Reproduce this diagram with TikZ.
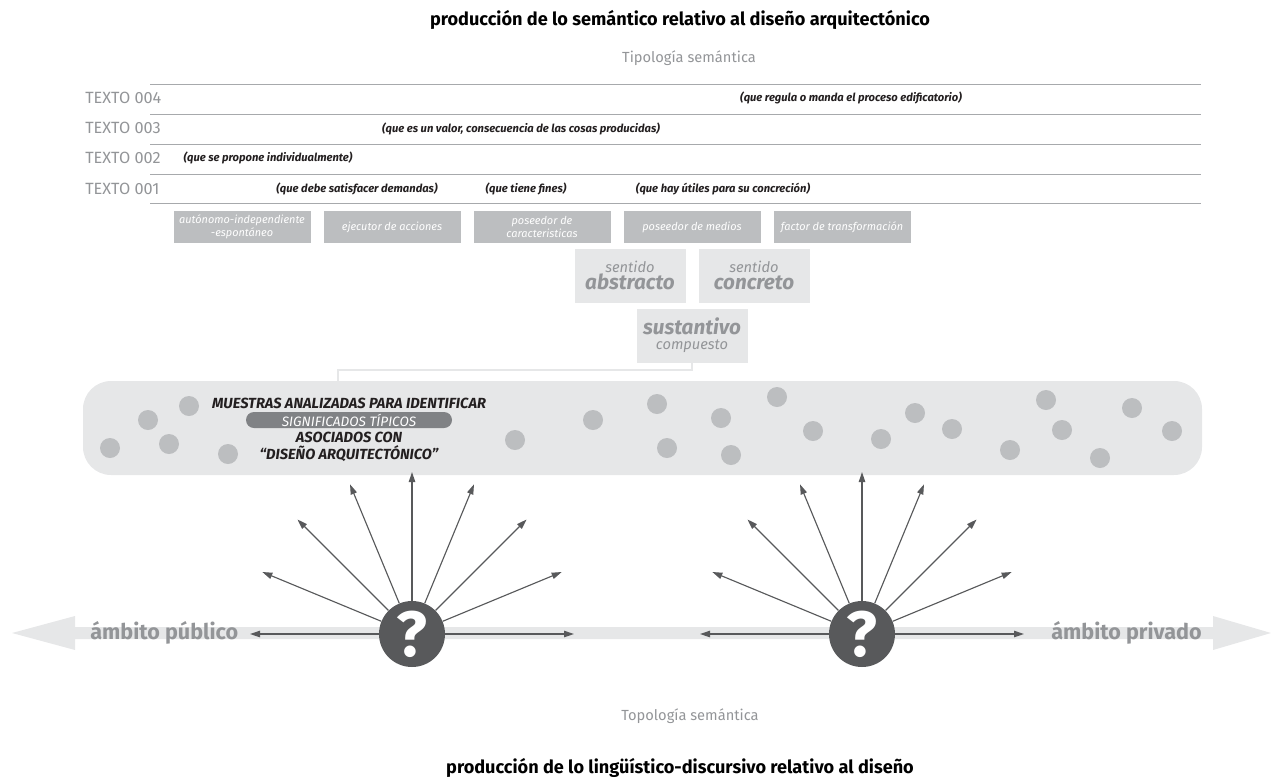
\documentclass[tikz,border=0pt]{standalone}
\usepackage{fontspec}
\setmainfont{Fira Sans}
\usepackage{tikz}
\usetikzlibrary{arrows.meta}
\definecolor{labgray}{HTML}{939598}
\definecolor{rulegray}{HTML}{A7A9AC}
\definecolor{boxgray}{HTML}{BCBEC0}
\definecolor{panelgray}{HTML}{E6E7E8}
\definecolor{pillgray}{HTML}{808285}
\definecolor{qgray}{HTML}{58595B}
\definecolor{inkblack}{HTML}{231F20}
\tikzset{
  rowlabel/.style={anchor=west, inner sep=0.75pt, text=labgray, font=\fontsize{12.2}{13}\selectfont},
  gloss/.style={inner sep=0.75pt, text=inkblack, font=\fontsize{8.4}{9}\selectfont\bfseries\itshape},
  rolebox/.style={fill=boxgray, text=white, minimum width=102.75pt, minimum height=24pt, inner sep=0pt, align=center, font=\fontsize{8.2}{9.4}\selectfont\itshape},
  sensebox/.style={fill=panelgray, text=labgray, minimum width=83.25pt, minimum height=40.5pt, inner sep=0pt, align=center},
  sample/.style={fill=boxgray},
  fanarrow/.style={draw=qgray, line width=0.85pt, -{Triangle[length=7.5pt,width=4.8pt]}},
  qcircle/.style={circle, fill=qgray, text=white, minimum size=49.5pt, inner sep=0pt, font=\fontsize{48}{48}\selectfont\bfseries},
  link/.style={draw=panelgray, line width=1.9pt},
  paneltext/.style={inner sep=0.75pt, text=inkblack, font=\fontsize{11}{12}\selectfont\bfseries\itshape}
}
\begin{document}
\begin{tikzpicture}[x=0.75pt,y=0.75pt,yscale=-1,xscale=1]
\path[use as bounding box] (0,0) rectangle (1271,779);
% Title Node
\node (title) at (680,20) [inner sep=0.75pt, font=\fontsize{13.6}{14}\selectfont\bfseries] {producción de lo semántico relativo al diseño arquitectónico};
% Text Node
\node (tipo) at (689,58) [inner sep=0.75pt, text=labgray, font=\fontsize{11}{12}\selectfont] {Tipología semántica};
%Straight Lines: rows
\foreach \y in {84,114,144,174,203}
  \draw [rulegray, line width=0.75pt] (150,\y) -- (1201,\y);
% Text Node: row labels
\foreach \y/\n in {98/004,128/003,158/002,189/001}
  \node (t\n) at (84,\y) [rowlabel] {TEXTO \n};
% Text Node: glosses
\node (g4) at (851,98) [gloss] {(que regula o manda el proceso edificatorio)};
\node (g3) at (521,129) [gloss] {(que es un valor, consecuencia de las cosas producidas)};
\node (g2) at (268,158) [gloss] {(que se propone individualmente)};
\node (g1a) at (357,189) [gloss] {(que debe satisfacer demandas)};
\node (g1b) at (526,189) [gloss] {(que tiene fines)};
\node (g1c) at (723,189) [gloss] {(que hay útiles para su concreción)};
%Shape: Rectangle row of roles
\node (r1) at (242,227) [rolebox] {autónomo-independiente\\-espontáneo};
\node (r2) at (392,227) [rolebox] {ejecutor de acciones};
\node (r3) at (542,227) [rolebox] {poseedor de\\caracteristicas};
\node (r4) at (692,227) [rolebox] {poseedor de medios};
\node (r5) at (842,227) [rolebox] {factor de transformación};
%Shape: Rectangle senses
\node (abs) at (630,275.5) [sensebox] {{\fontsize{11}{12}\selectfont\itshape sentido}\\[1pt]{\fontsize{15.5}{16}\selectfont\bfseries\itshape abstracto}};
\node (con) at (754,275.5) [sensebox] {{\fontsize{11}{12}\selectfont\itshape sentido}\\[1pt]{\fontsize{15.5}{16}\selectfont\bfseries\itshape concreto}};
\node (sust) at (692,335.5) [sensebox] {{\fontsize{15.5}{16}\selectfont\bfseries\itshape sustantivo}\\[-1pt]{\fontsize{11}{12}\selectfont\itshape compuesto}};
%Shape: Rounded Rect samples
\node (panel) at (642.5,428) [fill=panelgray, rounded corners=21pt, minimum width=839.25pt, minimum height=70.5pt, inner sep=0pt] {};
\coordinate (tap) at (338,381);
%Straight Lines connector
\draw [link] (sust.south) -- ++(0,7) -| (tap);
%Shape: Circles samples
\foreach \x/\y in {110/448,148/420,169/444,189/406,228/454,515/440,593/420,
  657/404,667/448,721/418,731/455,777/397,813/431,881/439,915/413,952/429,
  1010/450,1046/400,1062/430,1100/458,1132/408,1172/431}
  \fill [sample] (\x,\y) circle [radius=7.5pt];
% Text Node: panel text
\node (m1) at (349,403) [paneltext] {MUESTRAS ANALIZADAS PARA IDENTIFICAR};
\node (m2) at (349,420) [fill=pillgray, rounded corners=6pt, minimum width=154.5pt, minimum height=12pt, inner sep=0pt, text=white, font=\fontsize{10.2}{11}\selectfont\itshape] {SIGNIFICADOS TÍPICOS};
\node (m3) at (349,437) [paneltext] {ASOCIADOS CON};
\node (m4) at (349,454) [paneltext] {“DISEÑO ARQUITECTÓNICO”};
%Shape: Double arrow band
\fill [panelgray] (12,633) -- (75,616) -- (75,627) -- (1213,627) -- (1213,616) -- (1271,633) -- (1213,650) -- (1213,639) -- (75,639) -- (75,650) -- cycle;
% Text Node: scopes
\node (pub) at (89,633) [anchor=west, inner sep=0.75pt, text=labgray, font=\fontsize{16.2}{17}\selectfont\bfseries] {ámbito público};
\node (priv) at (1203,633) [anchor=east, inner sep=0.75pt, text=labgray, font=\fontsize{16.2}{17}\selectfont\bfseries] {ámbito privado};
%Flowchart: question circles
\node (q1) at (412,634) [qcircle] {?};
\node (q2) at (862,634) [qcircle] {?};
%Straight Lines fans
\foreach \q in {q1,q2}
  \foreach \a in {0,22.5,...,180}
    \draw [fanarrow] (\q) -- ++(-\a:162);
% Text Node
\node (topo) at (690,716) [inner sep=0.75pt, text=labgray, font=\fontsize{11}{12}\selectfont] {Topología semántica};
% Title Node
\node (subtitle) at (680,768) [inner sep=0.75pt, font=\fontsize{13.6}{14}\selectfont\bfseries] {producción de lo lingüístico-discursivo relativo al diseño};
\end{tikzpicture}
\end{document}
